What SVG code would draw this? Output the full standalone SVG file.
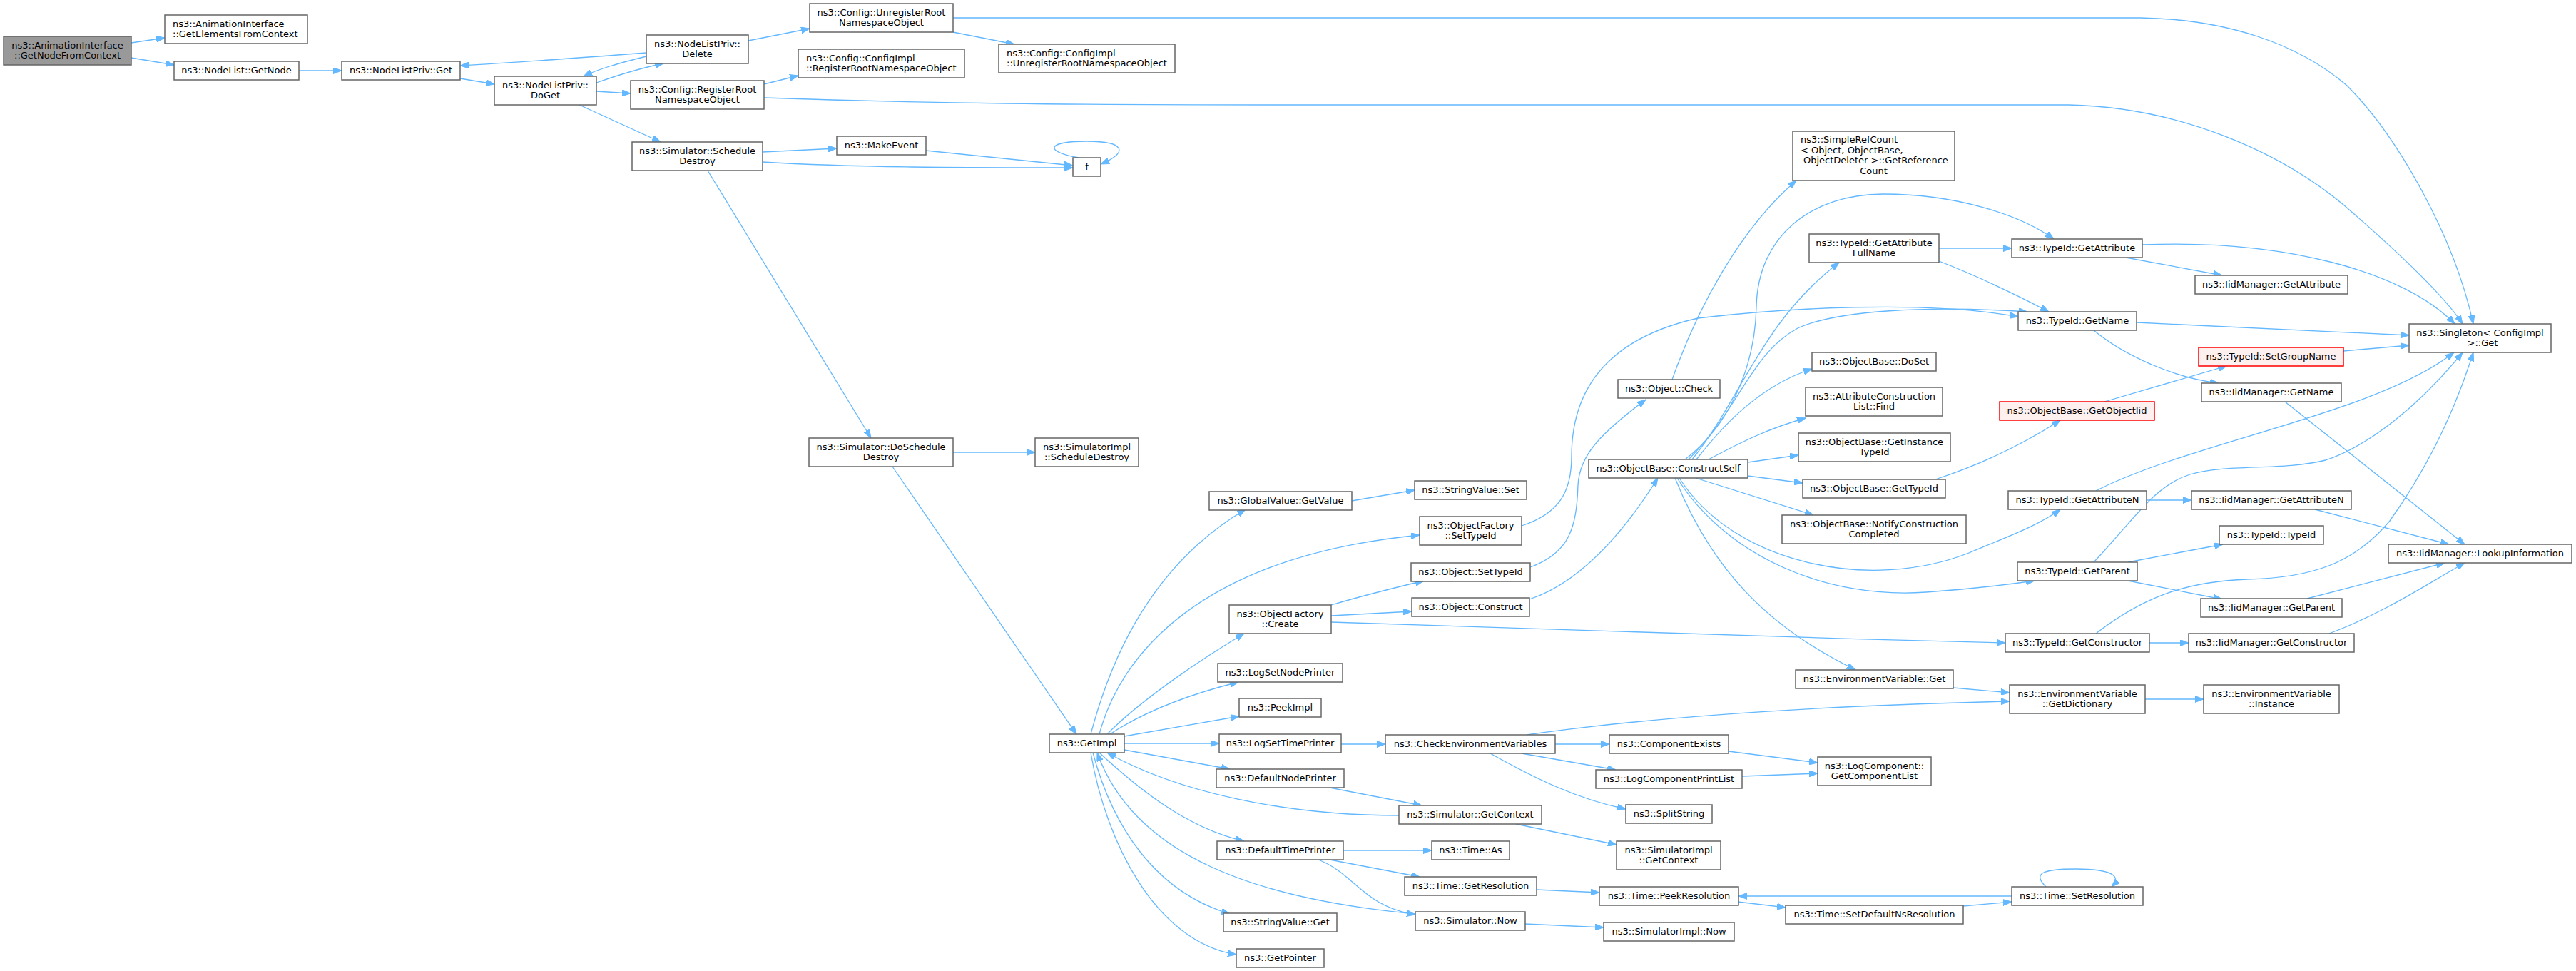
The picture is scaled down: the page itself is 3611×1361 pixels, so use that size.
<svg xmlns="http://www.w3.org/2000/svg" width="3611" height="1361" viewBox="0 0 3611 1361">
<style>
rect{fill:#ffffff;stroke:#666666;stroke-width:1.5}
rect.root{fill:#999999}
rect.red{fill:#fff0f0;stroke:#ff0000}
text{font-family:"DejaVu Sans","Liberation Sans",sans-serif;font-size:13px;fill:#000000}
text.m{text-anchor:middle}
#edges path{fill:none;stroke:#63b8ff;stroke-width:1.3;marker-end:url(#arr)}
</style>
<defs>
<marker id="arr" viewBox="0 0 12 9" markerWidth="12" markerHeight="9" refX="12" refY="4.5" orient="auto" markerUnits="userSpaceOnUse">
<path d="M0,0 L12,4.5 L0,9 z" fill="#63b8ff" stroke="#63b8ff" stroke-width="1"/>
</marker>
</defs>
<rect x="0" y="0" width="3611" height="1361" style="fill:#ffffff;stroke:none"/>
<g id="edges">
<path d="M184,60 L231,53"/>
<path d="M184,81 L244,91"/>
<path d="M419,99 L479,99"/>
<path d="M645,110 L693,118"/>
<path d="M906,74 C800,82 720,88 645,92"/>
<path d="M836,116 C870,104 900,95 930,89"/>
<path d="M906,79 C870,88 840,96 818,107"/>
<path d="M836,128 L884,131"/>
<path d="M812,147 L926,199"/>
<path d="M1049,57 L1135,40"/>
<path d="M1336,45 L1422,62"/>
<path d="M1336,25 L3000,25 C3120,27 3220,60 3290,120 C3360,190 3440,330 3467,454"/>
<path d="M1071,118 L1119,106"/>
<path d="M1071,137 C1300,145 1500,147 1800,147 L2900,147 C3050,150 3200,210 3300,300 C3380,370 3430,420 3452,454"/>
<path d="M1069,213 L1173,208"/>
<path d="M1069,227 C1200,235 1350,235 1504,235"/>
<path d="M1298,211 L1504,232"/>
<path d="M1512,221 C1462,212 1468,198 1523,198 C1578,198 1582,214 1543,230"/>
<path d="M992,239 L1221,614"/>
<path d="M1336,634 L1451,634"/>
<path d="M1251,654 L1509,1029"/>
<path d="M1529,1029 C1550,950 1600,800 1746,714"/>
<path d="M1541,1029 C1570,920 1680,780 1990,750"/>
<path d="M1552,1029 C1600,980 1690,920 1744,888"/>
<path d="M1556,1029 C1600,1000 1660,975 1736,956"/>
<path d="M1576,1032 L1737,1004"/>
<path d="M1576,1042 L1709,1042"/>
<path d="M1576,1051 L1724,1078"/>
<path d="M1541,1055 C1590,1100 1660,1160 1744,1179"/>
<path d="M1961,1143 C1800,1143 1650,1110 1552,1055"/>
<path d="M1984,1281 C1760,1260 1590,1200 1538,1055"/>
<path d="M1532,1055 C1560,1160 1620,1250 1724,1281"/>
<path d="M1529,1055 C1550,1180 1620,1320 1733,1338"/>
<path d="M1895,702 L1983,687"/>
<path d="M2133,737 C2185,720 2203,690 2203,640 C2203,570 2230,480 2380,446 C2500,432 2700,420 2829,444"/>
<path d="M2145,795 C2200,775 2210,740 2212,680 C2214,640 2240,610 2307,560"/>
<path d="M2344,532 C2380,430 2440,320 2518,253"/>
<path d="M2144,840 C2220,815 2280,740 2324,670"/>
<path d="M1866,848 C1910,835 1950,825 1996,814"/>
<path d="M1866,863 L1979,857"/>
<path d="M1866,872 C2200,885 2500,893 2811,901"/>
<path d="M2372,644 C2440,560 2470,450 2578,368"/>
<path d="M2362,644 C2420,600 2460,520 2462,430 C2464,330 2540,272 2640,272 C2740,272 2830,300 2879,335"/>
<path d="M2367,644 C2440,570 2455,495 2520,460 C2575,435 2700,428 2842,437"/>
<path d="M2378,644 C2420,590 2470,540 2540,517"/>
<path d="M2395,644 C2440,620 2480,600 2531,586"/>
<path d="M2450,648 L2521,638"/>
<path d="M2450,667 L2527,677"/>
<path d="M2377,670 L2542,722"/>
<path d="M2354,670 C2430,790 2620,830 2760,775 C2820,750 2860,735 2888,714"/>
<path d="M2351,670 C2420,780 2560,840 2700,830 C2760,826 2810,820 2852,814"/>
<path d="M2348,670 C2400,800 2480,880 2601,939"/>
<path d="M2718,348 L2820,348"/>
<path d="M2718,366 C2780,390 2830,415 2872,437"/>
<path d="M2980,361 L3115,386"/>
<path d="M3003,343 C3200,335 3370,380 3441,454"/>
<path d="M2995,452 L3377,470"/>
<path d="M3285,492 L3377,484"/>
<path d="M2935,463 C2980,500 3050,530 3110,537"/>
<path d="M2950,563 L3121,513"/>
<path d="M2713,672 C2780,650 2840,620 2888,589"/>
<path d="M3203,563 L3455,763"/>
<path d="M2938,688 C3070,620 3330,580 3440,494"/>
<path d="M2935,788 C2990,730 3020,680 3070,665 C3120,650 3200,660 3260,645 C3320,625 3390,570 3452,494"/>
<path d="M2938,888 C3000,840 3060,815 3150,812 C3240,810 3300,790 3350,730 C3400,660 3440,580 3467,494"/>
<path d="M3009,701 L3072,701"/>
<path d="M2983,788 L3116,763"/>
<path d="M2983,814 L3115,840"/>
<path d="M3013,901 L3068,901"/>
<path d="M3245,714 L3433,763"/>
<path d="M3234,839 L3427,789"/>
<path d="M3265,888 C3340,860 3400,820 3455,789"/>
<path d="M2738,964 L2817,971"/>
<path d="M2140,1030 C2350,1000 2600,988 2817,983"/>
<path d="M3007,980 L3089,980"/>
<path d="M1880,1043 L1942,1043"/>
<path d="M2180,1043 L2256,1043"/>
<path d="M2133,1056 L2265,1079"/>
<path d="M2089,1056 C2150,1090 2210,1120 2279,1134"/>
<path d="M2423,1053 L2548,1069"/>
<path d="M2442,1088 L2548,1084"/>
<path d="M1864,1104 L1993,1129"/>
<path d="M2125,1155 L2266,1184"/>
<path d="M1883,1192 L2007,1192"/>
<path d="M1864,1205 L1990,1229"/>
<path d="M1848,1205 C1900,1225 1910,1270 1984,1282"/>
<path d="M2154,1247 L2242,1251"/>
<path d="M2138,1295 L2248,1300"/>
<path d="M2436,1264 L2503,1272"/>
<path d="M2752,1270 L2820,1264"/>
<path d="M2820,1256 L2437,1256"/>
<path d="M2868,1243 C2850,1225 2860,1218 2910,1218 C2960,1218 2975,1228 2960,1243"/>
</g>
<g id="n1"><rect class="root" x="5" y="51" width="179" height="40"/><text class="m" x="94.5" y="67.5">ns3::AnimationInterface</text><text class="m" x="94.5" y="82">::GetNodeFromContext</text></g>
<g id="n2"><rect x="231" y="21" width="200" height="40"/><text x="242" y="37.5">ns3::AnimationInterface</text><text x="242" y="52">::GetElementsFromContext</text></g>
<g id="n3"><rect x="244" y="86" width="175" height="26"/><text class="m" x="331.5" y="103">ns3::NodeList::GetNode</text></g>
<g id="n4"><rect x="479" y="86" width="166" height="26"/><text class="m" x="562" y="103">ns3::NodeListPriv::Get</text></g>
<g id="n5"><rect x="693" y="107" width="143" height="40"/><text class="m" x="764.5" y="123.5">ns3::NodeListPriv::</text><text class="m" x="764.5" y="138">DoGet</text></g>
<g id="n6"><rect x="906" y="49" width="143" height="40"/><text class="m" x="977.5" y="65.5">ns3::NodeListPriv::</text><text class="m" x="977.5" y="80">Delete</text></g>
<g id="n7"><rect x="1135" y="5" width="201" height="40"/><text class="m" x="1235.5" y="21.5">ns3::Config::UnregisterRoot</text><text class="m" x="1235.5" y="36">NamespaceObject</text></g>
<g id="n8"><rect x="1119" y="69" width="233" height="40"/><text x="1130" y="85.5">ns3::Config::ConfigImpl</text><text x="1130" y="100">::RegisterRootNamespaceObject</text></g>
<g id="n9"><rect x="1400" y="62" width="247" height="40"/><text x="1411" y="78.5">ns3::Config::ConfigImpl</text><text x="1411" y="93">::UnregisterRootNamespaceObject</text></g>
<g id="n10"><rect x="884" y="113" width="187" height="40"/><text class="m" x="977.5" y="129.5">ns3::Config::RegisterRoot</text><text class="m" x="977.5" y="144">NamespaceObject</text></g>
<g id="n11"><rect x="886" y="199" width="183" height="40"/><text class="m" x="977.5" y="215.5">ns3::Simulator::Schedule</text><text class="m" x="977.5" y="230">Destroy</text></g>
<g id="n12"><rect x="1173" y="191" width="125" height="26"/><text class="m" x="1235.5" y="208">ns3::MakeEvent</text></g>
<g id="n13"><rect x="1504" y="221" width="39" height="26"/><text class="m" x="1523.5" y="238">f</text></g>
<g id="n14"><rect x="1134" y="614" width="202" height="40"/><text class="m" x="1235" y="630.5">ns3::Simulator::DoSchedule</text><text class="m" x="1235" y="645">Destroy</text></g>
<g id="n15"><rect x="1451" y="614" width="145" height="40"/><text class="m" x="1523.5" y="630.5">ns3::SimulatorImpl</text><text class="m" x="1523.5" y="645">::ScheduleDestroy</text></g>
<g id="n16"><rect x="1471" y="1029" width="105" height="26"/><text class="m" x="1523.5" y="1046">ns3::GetImpl</text></g>
<g id="n17"><rect x="1695" y="689" width="200" height="26"/><text class="m" x="1795" y="706">ns3::GlobalValue::GetValue</text></g>
<g id="n18"><rect x="1983" y="674" width="157" height="26"/><text class="m" x="2061.5" y="691">ns3::StringValue::Set</text></g>
<g id="n19"><rect x="1990" y="724" width="143" height="40"/><text class="m" x="2061.5" y="740.5">ns3::ObjectFactory</text><text class="m" x="2061.5" y="755">::SetTypeId</text></g>
<g id="n20"><rect x="1978" y="789" width="167" height="26"/><text class="m" x="2061.5" y="806">ns3::Object::SetTypeId</text></g>
<g id="n21"><rect x="1979" y="838" width="165" height="26"/><text class="m" x="2061.5" y="855">ns3::Object::Construct</text></g>
<g id="n22"><rect x="1723" y="848" width="143" height="40"/><text class="m" x="1794.5" y="864.5">ns3::ObjectFactory</text><text class="m" x="1794.5" y="879">::Create</text></g>
<g id="n23"><rect x="1707" y="930" width="175" height="26"/><text class="m" x="1794.5" y="947">ns3::LogSetNodePrinter</text></g>
<g id="n24"><rect x="1737" y="979" width="115" height="26"/><text class="m" x="1794.5" y="996">ns3::PeekImpl</text></g>
<g id="n25"><rect x="1709" y="1029" width="171" height="26"/><text class="m" x="1794.5" y="1046">ns3::LogSetTimePrinter</text></g>
<g id="n26"><rect x="1705" y="1078" width="179" height="26"/><text class="m" x="1794.5" y="1095">ns3::DefaultNodePrinter</text></g>
<g id="n27"><rect x="1706" y="1179" width="177" height="26"/><text class="m" x="1794.5" y="1196">ns3::DefaultTimePrinter</text></g>
<g id="n28"><rect x="1715" y="1280" width="159" height="26"/><text class="m" x="1794.5" y="1297">ns3::StringValue::Get</text></g>
<g id="n29"><rect x="1733" y="1330" width="123" height="26"/><text class="m" x="1794.5" y="1347">ns3::GetPointer</text></g>
<g id="n30"><rect x="1942" y="1030" width="238" height="26"/><text class="m" x="2061" y="1047">ns3::CheckEnvironmentVariables</text></g>
<g id="n31"><rect x="1961" y="1129" width="200" height="26"/><text class="m" x="2061" y="1146">ns3::Simulator::GetContext</text></g>
<g id="n32"><rect x="2007" y="1179" width="109" height="26"/><text class="m" x="2061.5" y="1196">ns3::Time::As</text></g>
<g id="n33"><rect x="1969" y="1229" width="185" height="26"/><text class="m" x="2061.5" y="1246">ns3::Time::GetResolution</text></g>
<g id="n34"><rect x="1984" y="1278" width="154" height="26"/><text class="m" x="2061" y="1295">ns3::Simulator::Now</text></g>
<g id="n35"><rect x="2256" y="1030" width="167" height="26"/><text class="m" x="2339.5" y="1047">ns3::ComponentExists</text></g>
<g id="n36"><rect x="2237" y="1079" width="205" height="26"/><text class="m" x="2339.5" y="1096">ns3::LogComponentPrintList</text></g>
<g id="n37"><rect x="2279" y="1128" width="121" height="26"/><text class="m" x="2339.5" y="1145">ns3::SplitString</text></g>
<g id="n38"><rect x="2266" y="1179" width="146" height="40"/><text class="m" x="2339" y="1195.5">ns3::SimulatorImpl</text><text class="m" x="2339" y="1210">::GetContext</text></g>
<g id="n39"><rect x="2548" y="1061" width="159" height="40"/><text class="m" x="2627.5" y="1077.5">ns3::LogComponent::</text><text class="m" x="2627.5" y="1092">GetComponentList</text></g>
<g id="n40"><rect x="2242" y="1243" width="195" height="26"/><text class="m" x="2339.5" y="1260">ns3::Time::PeekResolution</text></g>
<g id="n41"><rect x="2503" y="1269" width="249" height="26"/><text class="m" x="2627.5" y="1286">ns3::Time::SetDefaultNsResolution</text></g>
<g id="n42"><rect x="2820" y="1243" width="184" height="26"/><text class="m" x="2912" y="1260">ns3::Time::SetResolution</text></g>
<g id="n43"><rect x="2248" y="1293" width="183" height="26"/><text class="m" x="2339.5" y="1310">ns3::SimulatorImpl::Now</text></g>
<g id="n44"><rect x="2227" y="644" width="223" height="26"/><text class="m" x="2338.5" y="661">ns3::ObjectBase::ConstructSelf</text></g>
<g id="n45"><rect x="2268" y="532" width="143" height="26"/><text class="m" x="2339.5" y="549">ns3::Object::Check</text></g>
<g id="n46"><rect x="2513" y="184" width="227" height="69"/><text x="2524" y="200">ns3::SimpleRefCount</text><text x="2524" y="214.5">&lt; Object, ObjectBase,</text><text x="2528" y="229">ObjectDeleter &gt;::GetReference</text><text class="m" x="2626.5" y="243.5">Count</text></g>
<g id="n47"><rect x="2536" y="328" width="182" height="40"/><text class="m" x="2627" y="344.5">ns3::TypeId::GetAttribute</text><text class="m" x="2627" y="359">FullName</text></g>
<g id="n48"><rect x="2540" y="494" width="174" height="26"/><text class="m" x="2627" y="511">ns3::ObjectBase::DoSet</text></g>
<g id="n49"><rect x="2531" y="543" width="192" height="40"/><text class="m" x="2627" y="559.5">ns3::AttributeConstruction</text><text class="m" x="2627" y="574">List::Find</text></g>
<g id="n50"><rect x="2521" y="607" width="213" height="40"/><text class="m" x="2627.5" y="623.5">ns3::ObjectBase::GetInstance</text><text class="m" x="2627.5" y="638">TypeId</text></g>
<g id="n51"><rect x="2527" y="672" width="200" height="26"/><text class="m" x="2627" y="689">ns3::ObjectBase::GetTypeId</text></g>
<g id="n52"><rect x="2498" y="722" width="258" height="40"/><text class="m" x="2627" y="738.5">ns3::ObjectBase::NotifyConstruction</text><text class="m" x="2627" y="753">Completed</text></g>
<g id="n53"><rect x="2517" y="939" width="221" height="26"/><text class="m" x="2627.5" y="956">ns3::EnvironmentVariable::Get</text></g>
<g id="n54"><rect x="2817" y="960" width="190" height="40"/><text class="m" x="2912" y="976.5">ns3::EnvironmentVariable</text><text class="m" x="2912" y="991">::GetDictionary</text></g>
<g id="n55"><rect x="3089" y="960" width="190" height="40"/><text class="m" x="3184" y="976.5">ns3::EnvironmentVariable</text><text class="m" x="3184" y="991">::Instance</text></g>
<g id="n56"><rect x="2820" y="335" width="183" height="26"/><text class="m" x="2911.5" y="352">ns3::TypeId::GetAttribute</text></g>
<g id="n57"><rect x="3077" y="386" width="214" height="26"/><text class="m" x="3184" y="403">ns3::IidManager::GetAttribute</text></g>
<g id="n58"><rect x="2829" y="437" width="166" height="26"/><text class="m" x="2912" y="454">ns3::TypeId::GetName</text></g>
<g id="n59"><rect x="3377" y="454" width="199" height="40"/><text class="m" x="3476.5" y="470.5">ns3::Singleton&lt; ConfigImpl</text><text class="m" x="3480" y="485">&gt;::Get</text></g>
<g id="n60"><rect class="red" x="3082" y="487" width="203" height="26"/><text class="m" x="3183.5" y="504">ns3::TypeId::SetGroupName</text></g>
<g id="n61"><rect x="3086" y="537" width="196" height="26"/><text class="m" x="3184" y="554">ns3::IidManager::GetName</text></g>
<g id="n62"><rect class="red" x="2803" y="563" width="217" height="26"/><text class="m" x="2911.5" y="580">ns3::ObjectBase::GetObjectIid</text></g>
<g id="n63"><rect x="2815" y="688" width="194" height="26"/><text class="m" x="2912" y="705">ns3::TypeId::GetAttributeN</text></g>
<g id="n64"><rect x="3072" y="688" width="224" height="26"/><text class="m" x="3184" y="705">ns3::IidManager::GetAttributeN</text></g>
<g id="n65"><rect x="3111" y="737" width="146" height="26"/><text class="m" x="3184" y="754">ns3::TypeId::TypeId</text></g>
<g id="n66"><rect x="3348" y="763" width="257" height="26"/><text class="m" x="3476.5" y="780">ns3::IidManager::LookupInformation</text></g>
<g id="n67"><rect x="2828" y="788" width="168" height="26"/><text class="m" x="2912" y="805">ns3::TypeId::GetParent</text></g>
<g id="n68"><rect x="3085" y="839" width="198" height="26"/><text class="m" x="3184" y="856">ns3::IidManager::GetParent</text></g>
<g id="n69"><rect x="2811" y="888" width="202" height="26"/><text class="m" x="2912" y="905">ns3::TypeId::GetConstructor</text></g>
<g id="n70"><rect x="3068" y="888" width="232" height="26"/><text class="m" x="3184" y="905">ns3::IidManager::GetConstructor</text></g>
</svg>
